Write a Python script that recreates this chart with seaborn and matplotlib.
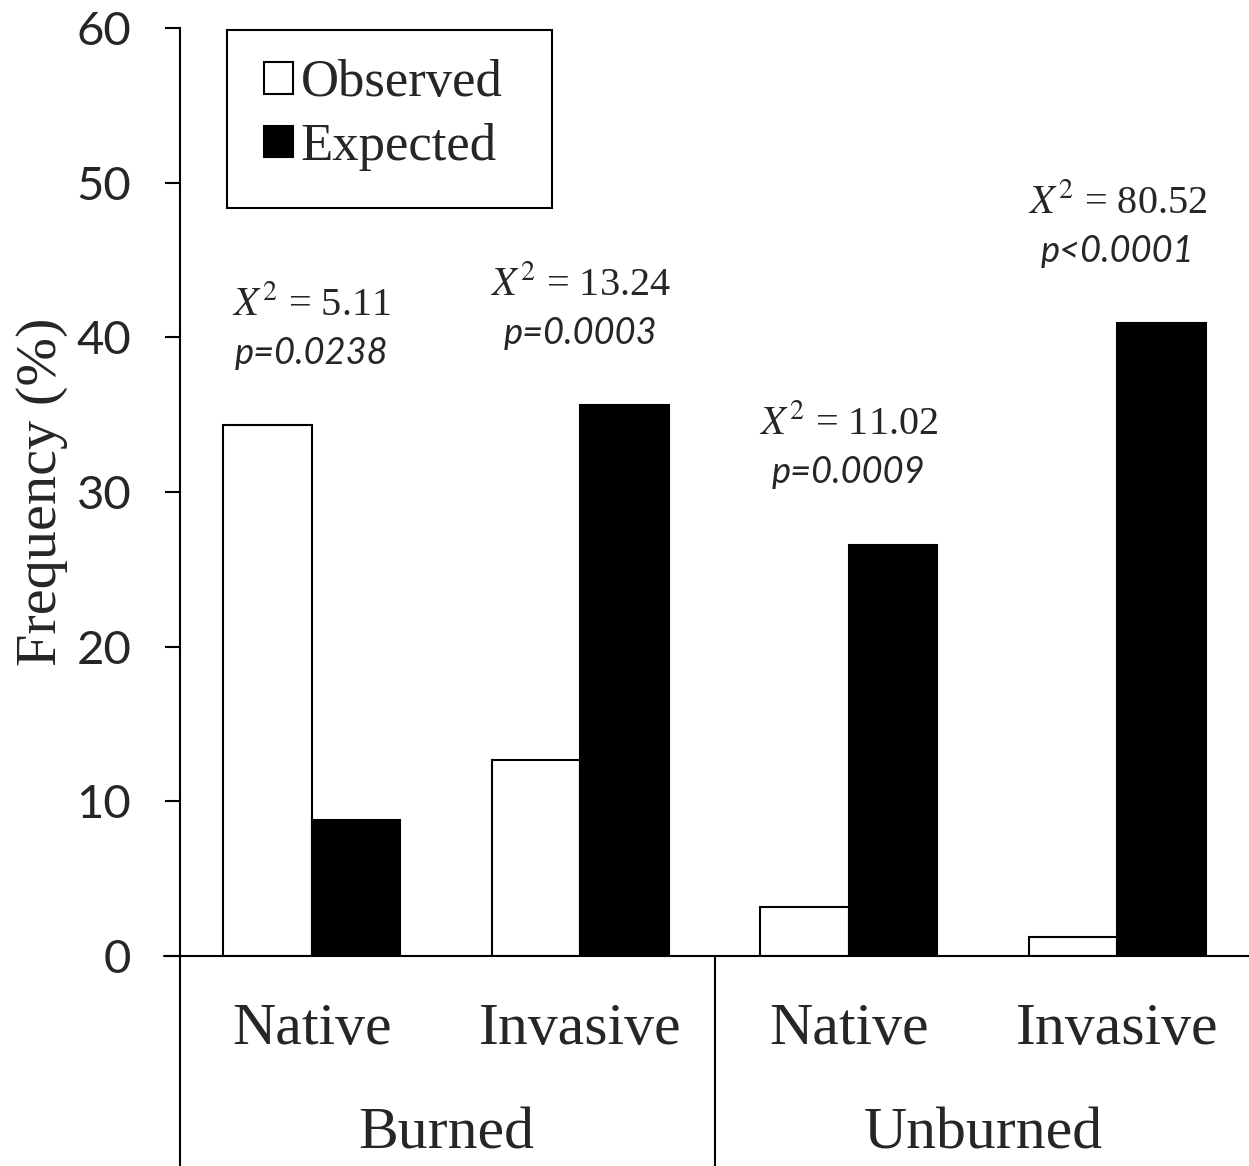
import pandas as pd
import seaborn as sns
import numpy as np
import matplotlib.pyplot as plt
from matplotlib.patches import Rectangle

# values
groups = ['Burned', 'Burned', 'Unburned', 'Unburned']
species = ['Native', 'Invasive', 'Native', 'Invasive']
observed = [34.3, 12.7, 3.2, 1.2]
expected = [8.8, 35.6, 26.6, 40.9]
chi2 = ['5.11', '13.24', '11.02', '80.52']
pvals = ['p=0.0238', 'p=0.0003', 'p=0.0009', 'p<0.0001']
yticks = [0, 10, 20, 30, 40, 50, 60]

cats = [g + ' ' + s for g, s in zip(groups, species)]
df = pd.DataFrame({
    'Category': cats * 2,
    'Type': ['Observed'] * 4 + ['Expected'] * 4,
    'Frequency': observed + expected,
})

sns.set_theme(style='white')
plt.rcParams['font.family'] = ['Liberation Serif', 'DejaVu Serif']
plt.rcParams['mathtext.fontset'] = 'stix'

fig = plt.figure(figsize=(12.49, 11.66), dpi=100)
ax = fig.add_axes([180 / 1249, 210 / 1166, 1069 / 1249, 928 / 1166])

sns.barplot(data=df, x='Category', y='Frequency', hue='Type', order=cats,
            hue_order=['Observed', 'Expected'],
            palette={'Observed': 'white', 'Expected': 'black'},
            edgecolor='black', linewidth=1.5, width=0.66, ax=ax, legend=True)

ax.set_xlim(-0.49, 3.49)
ax.set_ylim(0, 60)
ax.set_yticks(yticks)
ax.set_yticklabels([str(t) for t in yticks], family='Lato', fontsize=34)
ax.set_xticks(range(4))
ax.set_xticklabels(species, fontsize=43)
ax.tick_params(axis='x', length=0, pad=34)
ax.tick_params(axis='y', direction='out', length=11, width=1.5, color='black',
               left=True, pad=24)
ax.set_xlabel('')
ax.set_ylabel('Frequency (%)', fontsize=42, labelpad=6)

for side in ['top', 'right']:
    ax.spines[side].set_visible(False)
for side in ['left', 'bottom']:
    ax.spines[side].set_color('black')
    ax.spines[side].set_linewidth(1.5)

# multi-level category axis lines
ax.plot([0, 0], [0, -0.226], transform=ax.transAxes, color='black', lw=1.5, clip_on=False)
ax.plot([-0.015, 0], [0, 0], transform=ax.transAxes, color='black', lw=1.5, clip_on=False)
tr = ax.get_xaxis_transform()
ax.plot([1.5, 1.5], [0, -0.226], transform=tr, color='black', lw=1.5, clip_on=False)
ax.text(0.5, -0.192, 'Burned', transform=tr, ha='center', va='center', fontsize=43)
ax.text(2.5, -0.192, 'Unburned', transform=tr, ha='center', va='center', fontsize=43)

# chi-square annotations
for i in range(4):
    top = max(observed[i], expected[i])
    ax.annotate(pvals[i], (i, top), xytext=(0, 40), textcoords='offset points',
                ha='center', va='bottom', fontsize=26, family='Lato', style='italic')
    ax.annotate('$X^2$ = ' + chi2[i], (i, top), xytext=(0, 73),
                textcoords='offset points', ha='center', va='bottom', fontsize=29)

# legend
h, l = ax.get_legend_handles_labels()
ax.legend(h, l, loc='upper left', bbox_to_anchor=(0.044, 1.006), frameon=False,
          fontsize=38, handlelength=0.55, handleheight=0.55, handletextpad=0.15,
          labelspacing=0.3, borderpad=0.2)
ax.add_patch(Rectangle((0.044, 0.806), 0.304, 0.192, transform=ax.transAxes,
                       fill=False, edgecolor='black', lw=1.5, clip_on=False))

fig.savefig('out.png', dpi=100)
